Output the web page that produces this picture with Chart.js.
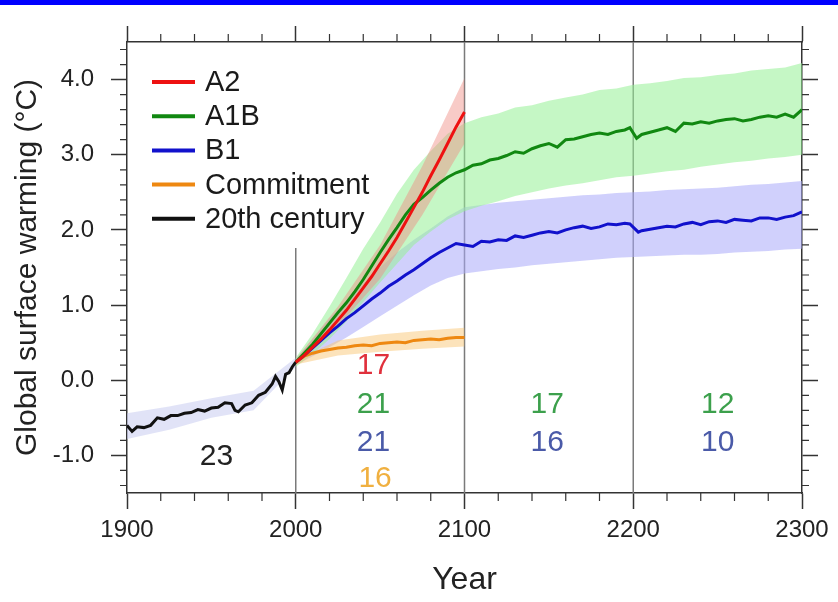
<!DOCTYPE html>
<html>
<head>
<meta charset="utf-8">
<script src="https://cdn.jsdelivr.net/npm/chart.js@4.4.1/dist/chart.umd.min.js"></script>
<style>
    body { margin: 0; background: #fff; overflow: hidden; }
    #wrap { position: absolute; left: 0; top: 0; width: 838px; height: 602px; }
    #barra { position: absolute; left: 0; top: 0; width: 838px; height: 5px; background: #0000ff; }
</style>
</head>
<body>
<div id="wrap"><canvas id="grafico" width="838" height="602"></canvas></div>
<div id="barra"></div>
<script>
// valores (aquecimento global em °C)
const anosHist = [1900, 1903, 1906, 1910, 1914, 1918, 1922, 1926, 1930, 1934, 1938, 1942, 1946, 1950, 1954, 1958, 1962, 1964, 1966, 1970, 1974, 1978, 1982, 1986, 1988, 1990, 1992, 1994, 1996, 1998, 2000];
const tempHist = [-0.6, -0.68, -0.62, -0.63, -0.6, -0.5, -0.52, -0.47, -0.47, -0.44, -0.43, -0.39, -0.41, -0.37, -0.36, -0.3, -0.31, -0.4, -0.42, -0.33, -0.3, -0.2, -0.16, -0.05, 0.05, -0.02, -0.13, 0.08, 0.1, 0.18, 0.24];

const anos21 = [2000, 2005, 2010, 2015, 2020, 2025, 2030, 2035, 2040, 2045, 2050, 2055, 2060, 2065, 2070, 2075, 2080, 2085, 2090, 2095, 2100];
const tempA2 = [0.24, 0.33, 0.44, 0.55, 0.67, 0.8, 0.93, 1.08, 1.23, 1.38, 1.55, 1.72, 1.9, 2.1, 2.3, 2.5, 2.72, 2.93, 3.15, 3.37, 3.57];
const tempCommit = [0.24, 0.32, 0.36, 0.39, 0.41, 0.43, 0.44, 0.46, 0.47, 0.46, 0.49, 0.5, 0.51, 0.5, 0.53, 0.54, 0.55, 0.54, 0.56, 0.57, 0.57];

const anosA1B = [2000, 2005, 2010, 2015, 2020, 2025, 2030, 2035, 2040, 2045, 2050, 2055, 2060, 2065, 2070, 2075, 2080, 2085, 2090, 2095,
    2100, 2105, 2110, 2115, 2120, 2125, 2130, 2135, 2140, 2145, 2150, 2155, 2160, 2165, 2170, 2175, 2180, 2185, 2190, 2195, 2198,
    2202, 2205, 2210, 2215, 2220, 2225, 2230, 2235, 2240, 2245, 2250, 2255, 2260, 2265, 2270, 2275, 2280, 2285, 2290, 2295, 2300];
const tempA1B = [0.24, 0.36, 0.48, 0.62, 0.76, 0.9, 1.03, 1.18, 1.34, 1.52, 1.7, 1.87, 2.03, 2.2, 2.34, 2.43, 2.53, 2.62, 2.7, 2.76,
    2.8, 2.86, 2.88, 2.93, 2.95, 2.99, 3.04, 3.02, 3.08, 3.12, 3.15, 3.1, 3.2, 3.21, 3.24, 3.27, 3.29, 3.27, 3.31, 3.33, 3.36,
    3.22, 3.27, 3.3, 3.33, 3.36, 3.31, 3.42, 3.41, 3.44, 3.42, 3.45, 3.47, 3.48, 3.45, 3.47, 3.5, 3.52, 3.5, 3.54, 3.5, 3.6];

const anosB1 = [2000, 2005, 2010, 2015, 2020, 2025, 2030, 2035, 2040, 2045, 2050, 2055, 2060, 2065, 2070, 2075, 2080, 2085, 2090, 2095,
    2100, 2105, 2110, 2115, 2120, 2125, 2130, 2135, 2140, 2145, 2150, 2155, 2160, 2165, 2170, 2175, 2180, 2185, 2190, 2195, 2198,
    2203, 2205, 2210, 2215, 2220, 2225, 2230, 2235, 2240, 2245, 2250, 2255, 2260, 2265, 2270, 2275, 2280, 2285, 2290, 2295, 2300];
const tempB1 = [0.24, 0.33, 0.43, 0.53, 0.63, 0.72, 0.82, 0.9, 0.99, 1.08, 1.16, 1.25, 1.32, 1.4, 1.47, 1.55, 1.63, 1.7, 1.76, 1.82,
    1.8, 1.78, 1.85, 1.84, 1.87, 1.86, 1.92, 1.9, 1.93, 1.96, 1.98, 1.96, 2.0, 2.03, 2.05, 2.02, 2.04, 2.08, 2.07, 2.09, 2.08,
    1.97, 1.99, 2.01, 2.03, 2.05, 2.04, 2.08, 2.1, 2.07, 2.11, 2.12, 2.1, 2.14, 2.13, 2.12, 2.16, 2.16, 2.14, 2.17, 2.19, 2.24];

// faixas de incerteza
const anosFaixaHist = [1900, 1925, 1950, 1975, 2000];
const histAlto = [-0.44, -0.35, -0.24, -0.14, 0.3];
const histBaixo = [-0.78, -0.66, -0.5, -0.4, 0.18];

const anosFaixa21 = [2000, 2025, 2050, 2075, 2100];
const a2Alto = [0.28, 0.98, 1.8, 2.85, 4.02];
const a2Baixo = [0.2, 0.72, 1.35, 2.2, 3.15];
const commitAlto = [0.27, 0.53, 0.61, 0.66, 0.7];
const commitBaixo = [0.21, 0.33, 0.38, 0.42, 0.45];

const anosFaixaLonga = [2000, 2010, 2020, 2030, 2040, 2050, 2060, 2070, 2080, 2090, 2100, 2110, 2120, 2130, 2140, 2150,
    2160, 2170, 2180, 2190, 2200, 2210, 2220, 2230, 2240, 2250, 2260, 2270, 2280, 2290, 2300];
const a1bAlto = [0.3, 0.62, 0.98, 1.36, 1.75, 2.1, 2.48, 2.8, 3.05, 3.28, 3.42, 3.5, 3.55, 3.63, 3.66, 3.72,
    3.76, 3.8, 3.86, 3.88, 3.93, 3.95, 3.98, 4.02, 4.03, 4.06, 4.08, 4.12, 4.14, 4.16, 4.22];
const a1bBaixo = [0.18, 0.35, 0.55, 0.78, 1.04, 1.3, 1.55, 1.8, 1.98, 2.14, 2.25, 2.32, 2.38, 2.45, 2.5, 2.55,
    2.59, 2.62, 2.66, 2.7, 2.72, 2.75, 2.78, 2.8, 2.84, 2.87, 2.9, 2.92, 2.95, 2.97, 3.0];
const b1Alto = [0.28, 0.55, 0.82, 1.06, 1.28, 1.5, 1.7, 1.87, 2.02, 2.18, 2.3, 2.33, 2.36, 2.38, 2.4, 2.42,
    2.44, 2.46, 2.47, 2.49, 2.5, 2.51, 2.53, 2.54, 2.55, 2.56, 2.58, 2.6, 2.61, 2.63, 2.65];
const b1Baixo = [0.2, 0.32, 0.44, 0.57, 0.71, 0.85, 0.99, 1.13, 1.26, 1.36, 1.42, 1.45, 1.48, 1.5, 1.53, 1.55,
    1.57, 1.59, 1.61, 1.63, 1.64, 1.65, 1.66, 1.67, 1.67, 1.68, 1.7, 1.71, 1.72, 1.74, 1.75];

const ticksX = [1900, 2000, 2100, 2200, 2300];
const ticksY = [-1, 0, 1, 2, 3, 4];

const legendaNomes = ['A2', 'A1B', 'B1', 'Commitment', '20th century'];
const legendaCores = ['#ee1111', '#118811', '#1111cc', '#ee8811', '#111111'];

// números de modelos escritos no gráfico
const notas = [
    { txt: '23', ano: 1953, val: -1.02, cor: '#222222' },
    { txt: '17', ano: 2046, val: 0.19, cor: '#e0303c' },
    { txt: '21', ano: 2046, val: -0.33, cor: '#3ca04c' },
    { txt: '21', ano: 2046, val: -0.83, cor: '#4a5aa8' },
    { txt: '16', ano: 2047, val: -1.31, cor: '#f0b040' },
    { txt: '17', ano: 2149, val: -0.33, cor: '#3ca04c' },
    { txt: '16', ano: 2149, val: -0.83, cor: '#4a5aa8' },
    { txt: '12', ano: 2250, val: -0.33, cor: '#3ca04c' },
    { txt: '10', ano: 2250, val: -0.83, cor: '#4a5aa8' }
];

function pontos(xs, ys) {
    return xs.map((x, i) => ({ x: x, y: ys[i] }));
}

function faixa(xs, baixo, alto, cor, ordem) {
    return [
        { data: pontos(xs, baixo), borderWidth: 0, pointRadius: 0, fill: false, order: ordem },
        { data: pontos(xs, alto), borderWidth: 0, pointRadius: 0, fill: '-1', backgroundColor: cor, order: ordem }
    ];
}

function linha(xs, ys, cor, ordem) {
    return { data: pontos(xs, ys), borderColor: cor, borderWidth: 3, pointRadius: 0, fill: false, order: ordem };
}

var datasets = []
datasets = datasets.concat(faixa(anosFaixaHist, histBaixo, histAlto, 'rgba(195,200,240,0.5)', 10));
datasets = datasets.concat(faixa(anosFaixaLonga, b1Baixo, b1Alto, 'rgba(170,170,250,0.55)', 9));
datasets = datasets.concat(faixa(anosFaixaLonga, a1bBaixo, a1bAlto, 'rgba(150,240,150,0.55)', 8));
datasets = datasets.concat(faixa(anosFaixa21, a2Baixo, a2Alto, 'rgba(240,140,130,0.45)', 7));
datasets = datasets.concat(faixa(anosFaixa21, commitBaixo, commitAlto, 'rgba(250,200,120,0.5)', 6));
datasets.push(linha(anos21, tempCommit, legendaCores[3], 4));
datasets.push(linha(anosB1, tempB1, legendaCores[2], 3));
datasets.push(linha(anosA1B, tempA1B, legendaCores[1], 2));
datasets.push(linha(anos21, tempA2, legendaCores[0], 1));
datasets.push(linha(anosHist, tempHist, legendaCores[4], 1));

const FONTE = "'Liberation Sans', Arial, Helvetica, sans-serif";
Chart.defaults.font.family = FONTE;
Chart.defaults.color = '#222';

// linhas verticais, ticks menores, legenda e notas
const extras = {
    id: 'extras',
    beforeDatasetsDraw(chart) {
        const ctx = chart.ctx;
        const x = chart.scales.x, y = chart.scales.y;
        ctx.save();
        ctx.strokeStyle = '#7a7a7a';
        ctx.lineWidth = 1.5;
        ctx.beginPath();
        ctx.moveTo(x.getPixelForValue(2000), y.getPixelForValue(1.76));
        ctx.lineTo(x.getPixelForValue(2000), y.bottom);
        [2100, 2200].forEach(a => {
            ctx.moveTo(x.getPixelForValue(a), y.top);
            ctx.lineTo(x.getPixelForValue(a), y.bottom);
        });
        ctx.stroke();
        ctx.restore();
    },
    afterDraw(chart) {
        const ctx = chart.ctx;
        const x = chart.scales.x, y = chart.scales.y;
        const area = chart.chartArea;
        ctx.save();
        ctx.strokeStyle = '#333';
        ctx.lineWidth = 1.2;
        ctx.beginPath();
        for (let a = 1920; a < 2300; a += 20) {
            if (a % 100 == 0) continue;
            let px = x.getPixelForValue(a);
            ctx.moveTo(px, area.bottom); ctx.lineTo(px, area.bottom + 8);
            ctx.moveTo(px, area.top); ctx.lineTo(px, area.top - 8);
        }
        for (let k = -7; k <= 22; k++) {
            if (k % 5 == 0) continue;
            let py = y.getPixelForValue(k * 0.2);
            ctx.moveTo(area.left - 7, py); ctx.lineTo(area.left, py);
            ctx.moveTo(area.right, py); ctx.lineTo(area.right + 7, py);
        }
        ctx.stroke();

        // legenda
        ctx.font = '29px ' + FONTE;
        ctx.textBaseline = 'middle';
        ctx.textAlign = 'left';
        legendaNomes.forEach((nome, i) => {
            let ly = 82 + i * 34.2;
            ctx.strokeStyle = legendaCores[i];
            ctx.lineWidth = 4;
            ctx.beginPath();
            ctx.moveTo(152, ly); ctx.lineTo(195, ly);
            ctx.stroke();
            ctx.fillStyle = '#1a1a1a';
            ctx.fillText(nome, 205, ly + 1);
        });

        // notas
        ctx.font = '30px ' + FONTE;
        ctx.textAlign = 'center';
        notas.forEach(n => {
            ctx.fillStyle = n.cor;
            ctx.fillText(n.txt, x.getPixelForValue(n.ano), y.getPixelForValue(n.val));
        });
        ctx.restore();
    }
};

const eixoCor = '#333';
function eixoX(pos, mostra) {
    return {
        type: 'linear', position: pos, min: 1900, max: 2300,
        afterBuildTicks: s => { s.ticks = ticksX.map(v => ({ value: v })) },
        ticks: { display: mostra, padding: 7, font: { size: 24 }, color: '#222', callback: v => String(v) },
        grid: { drawOnChartArea: false, tickLength: 16, tickColor: eixoCor, tickWidth: 1.5 },
        border: { color: eixoCor, width: 1.5 }
    };
}
function eixoY(pos, mostra) {
    return {
        type: 'linear', position: pos, min: -1.5, max: 4.5,
        afterBuildTicks: s => { s.ticks = ticksY.map(v => ({ value: v })) },
        ticks: { display: mostra, padding: 17, font: { size: 24 }, color: '#222', callback: v => v.toFixed(1) },
        grid: { drawOnChartArea: false, tickLength: 16, tickColor: eixoCor, tickWidth: 1.5 },
        border: { color: eixoCor, width: 1.5 }
    };
}

const sx = eixoX('bottom', true);
sx.title = { display: true, text: 'Year', font: { size: 32 }, color: '#222', padding: { top: 0, bottom: 3 } };
sx.afterFit = s => { s.height = 109 };
const sx2 = eixoX('top', false);
sx2.afterFit = s => { s.height = 42 };
const sy = eixoY('left', true);
sy.title = { display: true, text: 'Global surface warming (°C)', font: { size: 30 }, color: '#222', padding: { top: 10, bottom: 0 } };
sy.afterFit = s => { s.width = 127 };
const sy2 = eixoY('right', false);
sy2.afterFit = s => { s.width = 36 };

new Chart(document.getElementById('grafico'), {
    type: 'line',
    data: { datasets: datasets },
    options: {
        responsive: false,
        animation: false,
        layout: { padding: 0 },
        plugins: { legend: { display: false }, tooltip: { enabled: false } },
        scales: { x: sx, x2: sx2, y: sy, y2: sy2 }
    },
    plugins: [extras]
});
</script>
</body>
</html>
